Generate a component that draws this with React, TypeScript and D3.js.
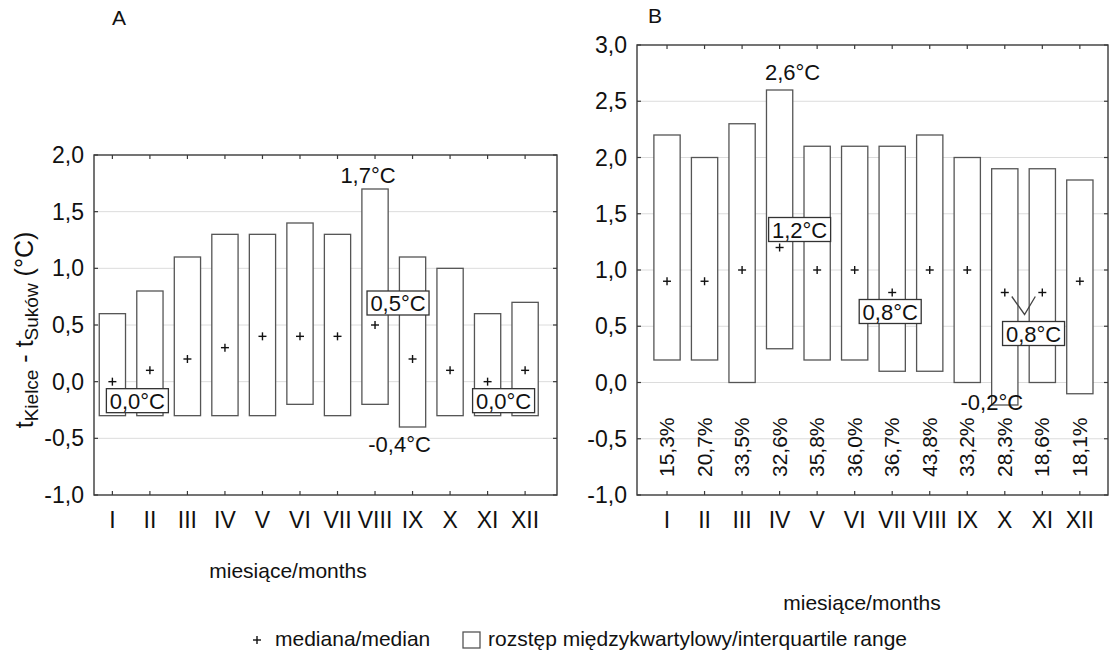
import React from 'react';
import * as d3 from 'd3';

// months on the x axis
const months = ['I', 'II', 'III', 'IV', 'V', 'VI', 'VII', 'VIII', 'IX', 'X', 'XI', 'XII'];

// panel A: quartiles and medians (°C)
const q1A = [-0.3, -0.3, -0.3, -0.3, -0.3, -0.2, -0.3, -0.2, -0.4, -0.3, -0.3, -0.3];
const q3A = [0.6, 0.8, 1.1, 1.3, 1.3, 1.4, 1.3, 1.7, 1.1, 1.0, 0.6, 0.7];
const medA = [0.0, 0.1, 0.2, 0.3, 0.4, 0.4, 0.4, 0.5, 0.2, 0.1, 0.0, 0.1];

// panel B
const q1B = [0.2, 0.2, 0.0, 0.3, 0.2, 0.2, 0.1, 0.1, 0.0, -0.2, 0.0, -0.1];
const q3B = [2.2, 2.0, 2.3, 2.6, 2.1, 2.1, 2.1, 2.2, 2.0, 1.9, 1.9, 1.8];
const medB = [0.9, 0.9, 1.0, 1.2, 1.0, 1.0, 0.8, 1.0, 1.0, 0.8, 0.8, 0.9];
const shareB = ['15,3%', '20,7%', '33,5%', '32,6%', '35,8%', '36,0%', '36,7%', '43,8%', '33,2%', '28,3%', '18,6%', '18,1%'];

const yTicksA = [-1, -0.5, 0, 0.5, 1, 1.5, 2];
const yTicksB = [-1, -0.5, 0, 0.5, 1, 1.5, 2, 2.5, 3];

// annotations: month index (0-based, may be fractional), value, text
const notesA = [
  { text: '0,0°C', m: 0, v: 0.0, boxed: true },
  { text: '1,7°C', m: 7, v: 1.7, boxed: false },
  { text: '0,5°C', m: 7, v: 0.5, boxed: true },
  { text: '-0,4°C', m: 8, v: -0.4, boxed: false },
  { text: '0,0°C', m: 10, v: 0.0, boxed: true },
];
const notesB = [
  { text: '2,6°C', m: 3, v: 2.6, boxed: false },
  { text: '1,2°C', m: 3, v: 1.2, boxed: true },
  { text: '0,8°C', m: 6, v: 0.8, boxed: true },
  { text: '0,8°C', m: 9.5, v: 0.8, boxed: true },
  { text: '-0,2°C', m: 9, v: -0.2, boxed: false },
];
// pixel offsets of the annotation labels from their anchor
const offsA = [[25, 19], [-7, -6], [23, -22], [-13, 25], [16, 19]];
const offsB = [[13, -10], [20, -18], [-2, 19], [10, 41], [-13, 5]];

const FONT = 'Arial, "Liberation Sans", sans-serif';
const fmt = d3.formatLocale({ decimal: ',', thousands: ' ', grouping: [3], currency: ['', ''], minus: '-' }).format('.1f');

type PanelProps = {
  left: number; right: number; top: number; bottom: number;
  xDomain: [number, number]; yDomain: [number, number]; yTicks: number[];
  q1: number[]; q3: number[]; med: number[];
  notes: { text: string; m: number; v: number; boxed: boolean }[];
  offs: number[][];
  letter: string; letterX: number; letterY: number;
  title: string; titleX: number; titleY: number;
  shares?: string[];
  vee?: boolean;
};

const Plus = ({ x, y, s = 4 }: { x: number; y: number; s?: number }) => (
  <g stroke="#111" strokeWidth={1.4}>
    <line x1={x - s} x2={x + s} y1={y} y2={y} />
    <line x1={x} x2={x} y1={y - s} y2={y + s} />
  </g>
);

const Panel = (p: PanelProps) => {
  const x = d3.scaleLinear().domain(p.xDomain).range([p.left, p.right]);
  const y = d3.scaleLinear().domain(p.yDomain).range([p.bottom, p.top]);
  const step = x(2) - x(1);
  const bw = step * 0.7;
  const ticksX = months.map((_, i) => x(i + 1));

  return (
    <g fontFamily={FONT}>
      <text x={p.letterX} y={p.letterY} fontSize={21} textAnchor="middle" fill="#111">{p.letter}</text>

      {p.yTicks.slice(1, -1).map((t) => (
        <line key={t} x1={p.left} x2={p.right} y1={y(t)} y2={y(t)} stroke="#dcdcdc" strokeWidth={1} />
      ))}

      {months.map((mo, i) => (
        <rect key={mo} x={x(i + 1) - bw / 2} y={y(p.q3[i])} width={bw} height={y(p.q1[i]) - y(p.q3[i])}
          fill="#fff" stroke="#555" strokeWidth={1.3} />
      ))}

      {p.med.map((v, i) => <Plus key={i} x={x(i + 1)} y={y(v)} />)}

      {p.shares && p.shares.map((s, i) => (
        <text key={i} transform={`translate(${x(i + 1) + 7},${p.bottom - 18}) rotate(-90)`}
          fontSize={21} fill="#111">{s}</text>
      ))}

      {p.vee && (() => {
        const y0 = y(0.8);
        const xa = x(10), xb = x(11), xm = (xa + xb) / 2;
        return (
          <polyline points={`${xa + 7},${y0 + 4} ${xm + 1},${y0 + 22} ${xb - 7},${y0 + 4}`}
            fill="none" stroke="#444" strokeWidth={1.3} />
        );
      })()}

      {p.notes.map((n, i) => {
        const cx = x(n.m + 1) + p.offs[i][0];
        const cy = y(n.v) + p.offs[i][1];
        if (n.boxed) {
          const w = n.text.length * 11.2 + 6;
          return (
            <g key={i}>
              <rect x={cx - w / 2} y={cy - 12} width={w} height={24} fill="#fff" stroke="#333" strokeWidth={1.3} />
              <text x={cx} y={cy + 8} fontSize={22} textAnchor="middle" fill="#111">{n.text}</text>
            </g>
          );
        }
        return <text key={i} x={cx} y={cy} fontSize={22} textAnchor="middle" fill="#111">{n.text}</text>;
      })}

      <rect x={p.left} y={p.top} width={p.right - p.left} height={p.bottom - p.top}
        fill="none" stroke="#3a3a3a" strokeWidth={1.4} />

      {ticksX.map((tx, i) => (
        <g key={i} stroke="#3a3a3a" strokeWidth={1.2}>
          <line x1={tx} x2={tx} y1={p.top} y2={p.top + 4} />
          <line x1={tx} x2={tx} y1={p.bottom} y2={p.bottom - 4} />
        </g>
      ))}
      {p.yTicks.map((t) => (
        <g key={t} stroke="#3a3a3a" strokeWidth={1.2}>
          <line x1={p.left} x2={p.left + 4} y1={y(t)} y2={y(t)} />
          <line x1={p.right} x2={p.right - 4} y1={y(t)} y2={y(t)} />
        </g>
      ))}

      {p.yTicks.map((t) => (
        <text key={t} x={p.left - 10} y={y(t) + 8} fontSize={23} textAnchor="end" fill="#111">{fmt(t)}</text>
      ))}
      {months.map((mo, i) => (
        <text key={mo} x={x(i + 1)} y={p.bottom + 33} fontSize={23} textAnchor="middle" fill="#111">{mo}</text>
      ))}
      <text x={p.titleX} y={p.titleY} fontSize={21} textAnchor="middle" fill="#111">{p.title}</text>
    </g>
  );
};

export default function App() {
  return (
    <svg width={1110} height={655} style={{ position: 'absolute', left: 0, top: 0, background: '#fff' }}>
      <rect width={1110} height={655} fill="#fff" />
      <Panel left={94} right={557} top={155} bottom={495} xDomain={[0.51, 12.85]} yDomain={[-1, 2]}
        yTicks={yTicksA} q1={q1A} q3={q3A} med={medA} notes={notesA} offs={offsA}
        letter="A" letterX={119} letterY={25} title="miesiące/months" titleX={288} titleY={578} />
      <Panel left={637} right={1108} top={45} bottom={495} xDomain={[0.2, 12.75]} yDomain={[-1, 3]}
        yTicks={yTicksB} q1={q1B} q3={q3B} med={medB} notes={notesB} offs={offsB}
        letter="B" letterX={655} letterY={23} title="miesiące/months" titleX={862} titleY={610}
        shares={shareB} vee />

      {/* y-axis title of panel A */}
      <text transform="translate(33,330) rotate(-90)" fontFamily={FONT} fontSize={25} textAnchor="middle" fill="#111">
        t<tspan fontSize={19} dy={5}>Kielce</tspan>
        <tspan dy={-5}> - t</tspan>
        <tspan fontSize={19} dy={5}>Suków</tspan>
        <tspan dy={-5}> (°C)</tspan>
      </text>

      {/* legend */}
      <g fontFamily={FONT} fontSize={21} fill="#111">
        <Plus x={257} y={640} s={4} />
        <text x={275} y={646}>mediana/median</text>
        <rect x={463} y={632} width={17} height={16} fill="#fff" stroke="#555" strokeWidth={1.3} />
        <text x={488} y={646}>rozstęp międzykwartylowy/interquartile range</text>
      </g>
    </svg>
  );
}
